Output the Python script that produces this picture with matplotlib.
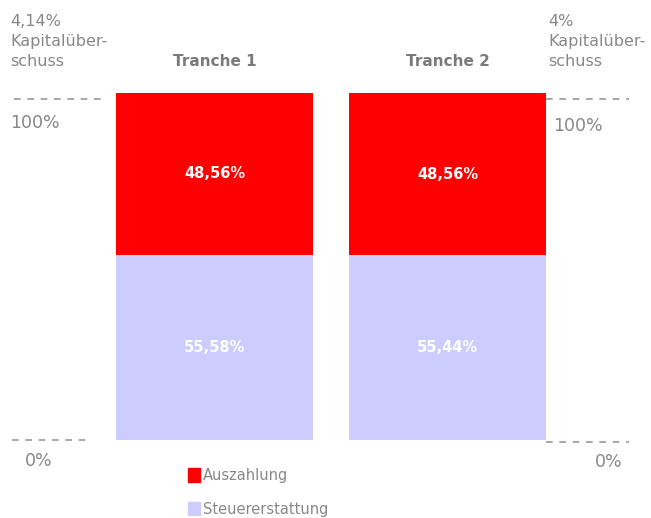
import matplotlib
matplotlib.use('Agg')
import matplotlib.pyplot as plt
import matplotlib.transforms as mtransforms
from matplotlib.patches import Patch

# Daten
tranchen = ['Tranche 1', 'Tranche 2']
steuererstattung = [55.58, 55.44]
auszahlung = [48.56, 48.56]
ueberschuss = ['4,14%', '4%']

rot = '#FF0000'
lila = '#CCCCFF'
grau = '#888888'

W, H = 651, 518
fig = plt.figure(figsize=(W / 100, H / 100), dpi=100)

def px(x, y):
    # Pixelkoordinaten (von oben links) -> Figurenanteil
    return x / W, 1 - y / H

# Achse so, dass die Balken an der richtigen Stelle liegen
breite = 0.845
x0 = -214.5 / 233
x1 = 1 + (W - 447.5) / 233
ax = fig.add_axes([0, 1 - 440 / H, 1, (440 - 93) / H])
ax.set_xlim(x0, x1)
summen = [s + a for s, a in zip(steuererstattung, auszahlung)]
ax.set_ylim(0, summen[0])
ax.axis('off')

pos = list(range(len(tranchen)))
ax.bar(pos, steuererstattung, width=breite, color=lila, label='Steuererstattung')
ax.bar(pos, auszahlung, width=breite, bottom=steuererstattung, color=rot, label='Auszahlung')

kopf = mtransforms.blended_transform_factory(ax.transData, fig.transFigure)
for i in pos:
    ax.text(i, steuererstattung[i] / 2, f'{steuererstattung[i]:.2f}%'.replace('.', ','),
            ha='center', va='center', color='white', fontsize=10.5, fontweight='bold')
    ax.text(i, steuererstattung[i] + auszahlung[i] / 2, f'{auszahlung[i]:.2f}%'.replace('.', ','),
            ha='center', va='center', color='white', fontsize=10.5, fontweight='bold')
    ax.text(i, px(0, 61)[1], tranchen[i], transform=kopf,
            ha='center', va='center', color='#7A7A7A', fontsize=11, fontweight='bold')

# gestrichelte Linien links/rechts
halb = breite / 2
versatz = mtransforms.offset_copy(ax.transData, fig=fig, x=0, y=-6, units='dots')
ax.plot([x0 + 14 / 233, -halb - 9 / 233], [summen[0]] * 2, ls=(0, (4, 4)), color='#999999', lw=1.2,
        transform=versatz, clip_on=False)
ax.plot([1 + halb, x1 - 22 / 233], [summen[0]] * 2, ls=(0, (4, 4)), color='#999999', lw=1.2,
        transform=versatz, clip_on=False)
ax.plot([x0 + 12 / 233, -halb - 30 / 233], [0, 0], ls=(0, (4, 4)), color='#999999', lw=1.2, clip_on=False)
ax.plot([1 + halb, x1 - 22 / 233], [0, 0], ls=(0, (4, 4)), color='#999999', lw=1.2,
        transform=mtransforms.offset_copy(ax.transData, fig=fig, x=0, y=-2, units='dots'), clip_on=False)

# Beschriftungen
fig.text(*px(10, 14), f'{ueberschuss[0]}\nKapitalüber-\nschuss', ha='left', va='top',
         color=grau, fontsize=11.5, linespacing=1.4)
fig.text(*px(548, 14), f'{ueberschuss[1]}\nKapitalüber-\nschuss', ha='left', va='top',
         color=grau, fontsize=11.5, linespacing=1.4)
fig.text(*px(10, 123), '100%', ha='left', va='center', color=grau, fontsize=12.5)
fig.text(*px(553, 126), '100%', ha='left', va='center', color=grau, fontsize=12.5)
fig.text(*px(25, 461), '0%', ha='left', va='center', color=grau, fontsize=12.5)
fig.text(*px(595, 462), '0%', ha='left', va='center', color=grau, fontsize=12.5)

# Legende
handles = [Patch(color=rot, label='Auszahlung'), Patch(color=lila, label='Steuererstattung')]
leg = fig.legend(handles=handles, loc='upper left', bbox_to_anchor=px(188, 468), frameon=False,
                 handlelength=0.8, handleheight=1.0, handletextpad=0.2, labelspacing=1.3,
                 borderpad=0, borderaxespad=0, fontsize=10.5)
for t in leg.get_texts():
    t.set_color(grau)

fig.savefig('out.png', dpi=100)
